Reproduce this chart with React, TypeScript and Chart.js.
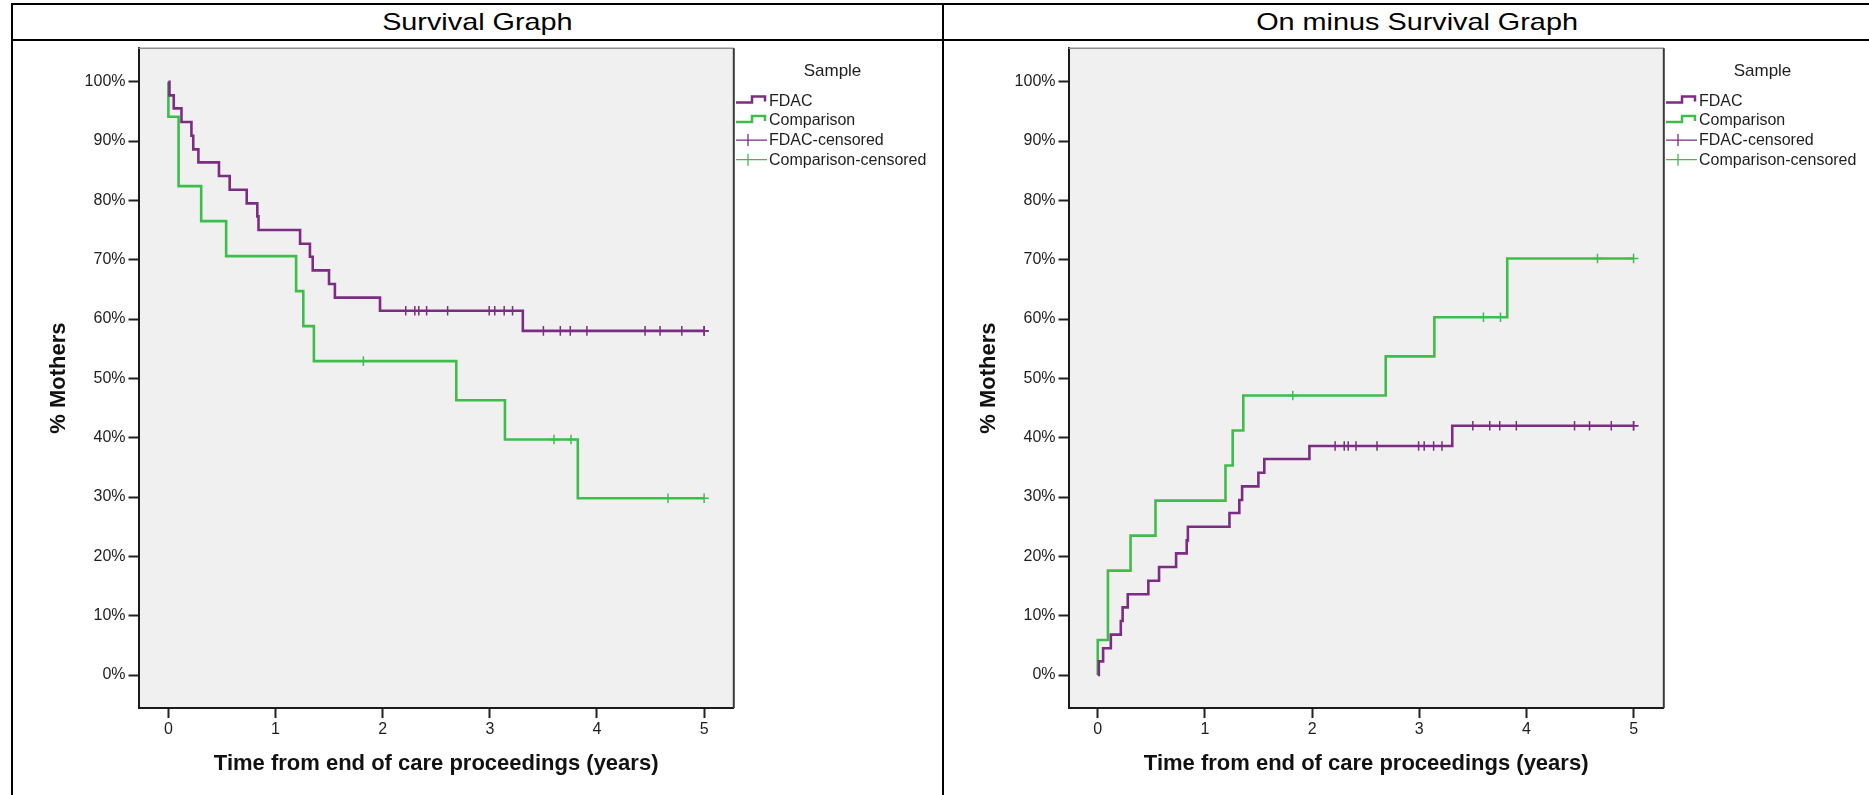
import React, { useEffect, useRef } from 'react';
import { Chart, registerables } from 'chart.js';

Chart.register(...registerables);

// ---------- DATA ----------
const xTickValues = [0, 1, 2, 3, 4, 5];
const yTickValues = [0, 10, 20, 30, 40, 50, 60, 70, 80, 90, 100];

const panelTitles = ['Survival Graph', 'On minus Survival Graph'];
const legendTitle = 'Sample';
const seriesLabels = ['FDAC', 'Comparison', 'FDAC-censored', 'Comparison-censored'];
const xAxisTitle = 'Time from end of care proceedings (years)';
const yAxisTitle = '% Mothers';

// event times (years)
const fdacEventTimes = [0, 0.01, 0.05, 0.122, 0.215, 0.232, 0.28, 0.472, 0.572, 0.731, 0.83, 0.841, 1.229, 1.321, 1.347, 1.499, 1.554, 1.975, 3.308, 5.0];
const comparisonEventTimes = [0, 0, 0.095, 0.306, 0.539, 1.192, 1.259, 1.358, 2.687, 3.141, 3.821, 5.0];

// survival (%)
const fdacSurvival = [100, 97.7, 95.5, 93.2, 90.9, 88.6, 86.4, 84.1, 81.8, 79.5, 77.3, 75.0, 72.7, 70.5, 68.2, 65.9, 63.6, 61.4, 58.0, 58.0];
const comparisonSurvival = [100, 94.1, 82.4, 76.5, 70.6, 64.7, 58.8, 52.9, 46.3, 39.7, 29.8, 29.8];

// censored observations
const fdacCensorTimes = [2.215, 2.3, 2.337, 2.41, 2.606, 2.994, 3.046, 3.134, 3.212, 3.5, 3.658, 3.751, 3.906, 4.449, 4.589, 4.792, 5.0, 5.0];
const fdacCensorSurvival = [61.4, 61.4, 61.4, 61.4, 61.4, 61.4, 61.4, 61.4, 61.4, 58.0, 58.0, 58.0, 58.0, 58.0, 58.0, 58.0, 58.0, 58.0];
const comparisonCensorTimes = [1.82, 3.599, 3.758, 4.663, 5.0];
const comparisonCensorSurvival = [52.9, 39.7, 39.7, 29.8, 29.8];

// one minus survival (%)
const fdacOneMinus = [0, 2.3, 4.5, 6.8, 9.1, 11.4, 13.6, 15.9, 18.2, 20.5, 22.7, 25.0, 27.3, 29.5, 31.8, 34.1, 36.4, 38.6, 42.0, 42.0];
const comparisonOneMinus = [0, 5.9, 17.6, 23.5, 29.4, 35.3, 41.2, 47.1, 53.7, 60.3, 70.2, 70.2];
const fdacCensorOneMinus = [38.6, 38.6, 38.6, 38.6, 38.6, 38.6, 38.6, 38.6, 38.6, 42.0, 42.0, 42.0, 42.0, 42.0, 42.0, 42.0, 42.0, 42.0];
const comparisonCensorOneMinus = [47.1, 60.3, 60.3, 70.2, 70.2];

// ---------- STYLE ----------
const FONT = 'Arial, "Liberation Sans", Helvetica, sans-serif';
const PURPLE = '#7c2c82';
const GREEN = '#3dbe4b';
const TEXT = '#1e1e1e';
const CANVAS_TOP = 42;
const CANVAS_H = 753;

Chart.defaults.font.family = FONT;

const pts = (xs: number[], ys: number[]) => xs.map((x, i) => ({ x, y: ys[i] }));

type PanelCfg = {
  canvasLeft: number;
  canvasWidth: number;
  yScaleWidth: number;
  padRight: number;
  yTitlePad: number;
  xMin: number;
  xMax: number;
  fdac: number[];
  comp: number[];
  fdacC: number[];
  compC: number[];
};

function buildConfig(p: PanelCfg): any {
  const frameAndBg = {
    id: 'frameAndBg',
    beforeDraw(chart: any) {
      const { ctx, chartArea: a } = chart;
      ctx.save();
      ctx.fillStyle = '#f0f0f0';
      ctx.fillRect(a.left, a.top, a.right - a.left, a.bottom - a.top);
      ctx.restore();
    },
    afterDraw(chart: any) {
      const { ctx, chartArea: a } = chart;
      ctx.save();
      ctx.strokeStyle = '#8e8e8e';
      ctx.lineWidth = 1.5;
      ctx.beginPath();
      ctx.moveTo(a.left, a.top);
      ctx.lineTo(a.right, a.top);
      ctx.stroke();
      ctx.strokeStyle = '#3a3a3a';
      ctx.lineWidth = 2;
      ctx.beginPath();
      ctx.moveTo(a.right, a.top);
      ctx.lineTo(a.right, a.bottom);
      ctx.stroke();
      ctx.restore();
    },
  };

  const legend = {
    id: 'kmLegend',
    afterDraw(chart: any) {
      const { ctx, chartArea: a } = chart;
      const x0 = a.right + 2.2;
      ctx.save();
      ctx.fillStyle = TEXT;
      ctx.font = `17px ${FONT}`;
      ctx.textAlign = 'center';
      ctx.textBaseline = 'alphabetic';
      ctx.fillText(legendTitle, a.right + 98.7, 34);
      const rows = [59, 78.4, 98.1, 117.7];
      const order = ['FDAC', 'Comparison', 'FDAC-censored', 'Comparison-censored'];
      order.forEach((lab, i) => {
        const ds = chart.data.datasets.find((d: any) => d.label === lab);
        if (!ds) return;
        const yc = rows[i];
        ctx.strokeStyle = ds.borderColor;
        ctx.beginPath();
        if (ds.kind === 'step') {
          ctx.lineWidth = 2.5;
          ctx.moveTo(x0, yc + 1.5);
          ctx.lineTo(x0 + 16, yc + 1.5);
          ctx.lineTo(x0 + 16, yc - 4.5);
          ctx.lineTo(x0 + 29, yc - 4.5);
          ctx.lineTo(x0 + 29, yc + 0.5);
        } else {
          ctx.lineWidth = 1.3;
          ctx.moveTo(x0, yc);
          ctx.lineTo(x0 + 31, yc);
          ctx.moveTo(x0 + 12, yc - 6);
          ctx.lineTo(x0 + 12, yc + 6);
        }
        ctx.stroke();
        ctx.fillStyle = TEXT;
        ctx.font = `16px ${FONT}`;
        ctx.textAlign = 'left';
        ctx.textBaseline = 'middle';
        ctx.fillText(ds.label, x0 + 33, yc + 0.5);
      });
      ctx.restore();
    },
  };

  const resetPadding = (s: any) => {
    s.paddingTop = 0;
    s.paddingBottom = 0;
    s.paddingLeft = 0;
    s.paddingRight = 0;
  };

  return {
    type: 'line',
    data: {
      datasets: [
        {
          label: seriesLabels[2],
          kind: 'cross',
          data: pts(fdacCensorTimes, p.fdacC),
          showLine: false,
          pointStyle: 'cross',
          pointRadius: 4.8,
          pointHoverRadius: 4.8,
          borderColor: PURPLE,
          pointBorderColor: PURPLE,
          pointBorderWidth: 1.5,
          order: 0,
        },
        {
          label: seriesLabels[3],
          kind: 'cross',
          data: pts(comparisonCensorTimes, p.compC),
          showLine: false,
          pointStyle: 'cross',
          pointRadius: 4.8,
          pointHoverRadius: 4.8,
          borderColor: GREEN,
          pointBorderColor: GREEN,
          pointBorderWidth: 1.5,
          order: 0,
        },
        {
          label: seriesLabels[0],
          kind: 'step',
          data: pts(fdacEventTimes, p.fdac),
          stepped: 'before',
          borderColor: PURPLE,
          borderWidth: 2.6,
          pointRadius: 0,
          pointHoverRadius: 0,
          fill: false,
          order: 1,
        },
        {
          label: seriesLabels[1],
          kind: 'step',
          data: pts(comparisonEventTimes, p.comp),
          stepped: 'before',
          borderColor: GREEN,
          borderWidth: 2.6,
          pointRadius: 0,
          pointHoverRadius: 0,
          fill: false,
          order: 2,
        },
      ],
    },
    options: {
      animation: false,
      responsive: false,
      maintainAspectRatio: false,
      events: [],
      layout: { padding: { left: 0, top: 6.3, right: p.padRight, bottom: 0 } },
      scales: {
        x: {
          type: 'linear',
          min: p.xMin,
          max: p.xMax,
          afterBuildTicks: (s: any) => {
            s.ticks = xTickValues.map((v) => ({ value: v }));
          },
          afterFit: (s: any) => {
            s.height = 87;
            resetPadding(s);
          },
          ticks: {
            autoSkip: false,
            maxRotation: 0,
            padding: 1.5,
            color: TEXT,
            font: { size: 16, family: FONT },
            callback: (v: any) => String(v),
          },
          grid: {
            display: true,
            drawOnChartArea: false,
            drawTicks: true,
            tickLength: 10,
            tickWidth: 2,
            tickColor: '#222',
            color: '#222',
          },
          border: { display: true, color: '#1a1a1a', width: 2 },
          title: {
            display: true,
            text: xAxisTitle,
            color: '#111',
            font: { size: 22, weight: 'bold', family: FONT },
            padding: { top: 0, bottom: 17.8 },
          },
        },
        y: {
          type: 'linear',
          min: -5.56,
          max: 105.63,
          afterBuildTicks: (s: any) => {
            s.ticks = yTickValues.map((v) => ({ value: v }));
          },
          afterFit: (s: any) => {
            s.width = p.yScaleWidth;
            resetPadding(s);
          },
          ticks: {
            autoSkip: false,
            padding: 3,
            color: TEXT,
            font: { size: 16, family: FONT },
            callback: (v: any) => `${v}%`,
          },
          grid: {
            display: true,
            drawOnChartArea: false,
            drawTicks: true,
            tickLength: 10,
            tickWidth: 2,
            tickColor: '#222',
            color: '#222',
          },
          border: { display: true, color: '#1a1a1a', width: 2 },
          title: {
            display: true,
            text: yAxisTitle,
            color: '#111',
            font: { size: 22, weight: 'bold', family: FONT },
            padding: { top: p.yTitlePad, bottom: 0 },
          },
        },
      },
      plugins: {
        legend: { display: false },
        tooltip: { enabled: false },
      },
    },
    plugins: [frameAndBg, legend],
  };
}

function KMPanel({ cfg }: { cfg: PanelCfg }) {
  const ref = useRef<HTMLCanvasElement | null>(null);
  useEffect(() => {
    if (!ref.current) return;
    const chart = new Chart(ref.current, buildConfig(cfg));
    return () => chart.destroy();
  }, []);
  return (
    <canvas
      ref={ref}
      width={cfg.canvasWidth}
      height={CANVAS_H}
      style={{
        position: 'absolute',
        left: cfg.canvasLeft,
        top: CANVAS_TOP,
        width: cfg.canvasWidth,
        height: CANVAS_H,
      }}
    />
  );
}

const leftPanel: PanelCfg = {
  canvasLeft: 14,
  canvasWidth: 920,
  yScaleWidth: 124.5,
  padRight: 200.2,
  yTitlePad: 31.8,
  xMin: -0.279,
  xMax: 5.277,
  fdac: fdacSurvival,
  comp: comparisonSurvival,
  fdacC: fdacCensorSurvival,
  compC: comparisonCensorSurvival,
};

const rightPanel: PanelCfg = {
  canvasLeft: 945,
  canvasWidth: 924,
  yScaleWidth: 123.5,
  padRight: 205.2,
  yTitlePad: 30.8,
  xMin: -0.273,
  xMax: 5.282,
  fdac: fdacOneMinus,
  comp: comparisonOneMinus,
  fdacC: fdacCensorOneMinus,
  compC: comparisonCensorOneMinus,
};

const line = (s: React.CSSProperties) => (
  <div style={{ position: 'absolute', background: '#000', ...s }} />
);

function Header({ left, width, text }: { left: number; width: number; text: string }) {
  return (
    <div
      style={{
        position: 'absolute',
        left,
        top: 4,
        width,
        height: 36,
        display: 'flex',
        alignItems: 'center',
        justifyContent: 'center',
        overflow: 'hidden',
      }}
    >
      <span
        style={{
          display: 'inline-block',
          fontFamily: FONT,
          fontSize: 24,
          lineHeight: '36px',
          color: '#000',
          transform: 'scaleX(1.2)',
          whiteSpace: 'nowrap',
        }}
      >
        {text}
      </span>
    </div>
  );
}

export default function App() {
  return (
    <div
      style={{
        position: 'fixed',
        left: 0,
        top: 0,
        width: 1869,
        height: 795,
        overflow: 'hidden',
        background: '#fff',
        fontFamily: FONT,
      }}
    >
      {line({ left: 11, top: 3, width: 1858, height: 2 })}
      {line({ left: 11, top: 39, width: 1858, height: 2 })}
      {line({ left: 11, top: 3, width: 2, height: 792 })}
      {line({ left: 942, top: 3, width: 2, height: 792 })}
      <Header left={13} width={929} text={panelTitles[0]} />
      <Header left={944} width={946} text={panelTitles[1]} />
      <KMPanel cfg={leftPanel} />
      <KMPanel cfg={rightPanel} />
    </div>
  );
}
